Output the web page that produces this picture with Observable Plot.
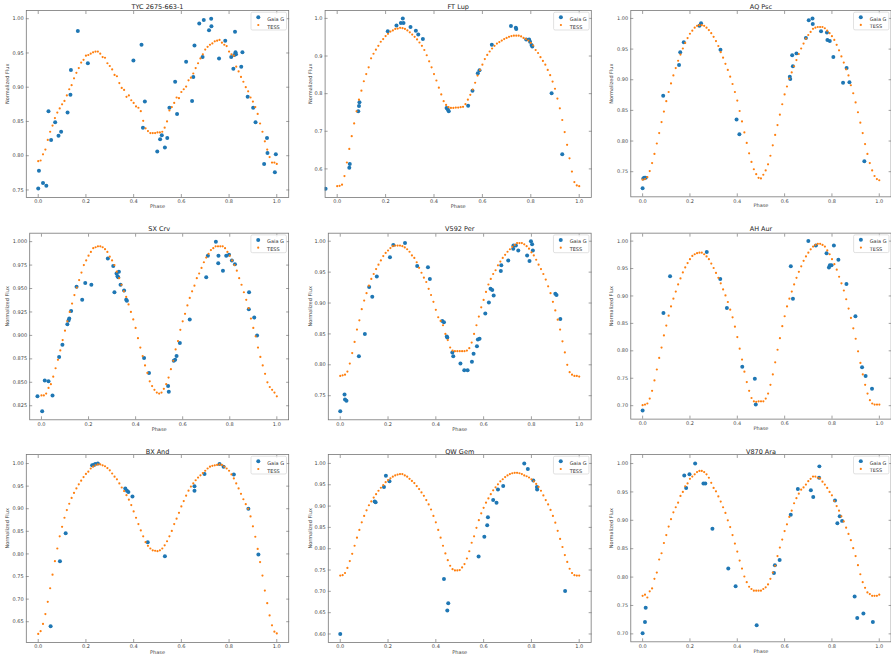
<!DOCTYPE html>
<html><head><meta charset="utf-8">
<script src="https://cdn.jsdelivr.net/npm/d3@7"></script>
<script src="https://cdn.jsdelivr.net/npm/@observablehq/plot@0.6"></script>
<style>
body{margin:0;background:#fff;overflow:hidden}
#wrap{position:relative;width:891px;height:660px;overflow:hidden;background:#fff}
.cell{position:absolute}
.cell svg{display:block}
</style></head><body><div id="wrap"></div>
<script>
const tessPhase = [0.00,0.01,0.02,0.03,0.04,0.05,0.06,0.07,0.08,0.09,0.10,0.11,0.12,0.13,0.14,0.15,0.16,0.17,0.18,0.19,0.20,0.21,0.22,0.23,0.24,0.25,0.26,0.27,0.28,0.29,0.30,0.31,0.32,0.33,0.34,0.35,0.36,0.37,0.38,0.39,0.40,0.41,0.42,0.43,0.44,0.45,0.46,0.47,0.48,0.49,0.50,0.51,0.52,0.53,0.54,0.55,0.56,0.57,0.58,0.59,0.60,0.61,0.62,0.63,0.64,0.65,0.66,0.67,0.68,0.69,0.70,0.71,0.72,0.73,0.74,0.75,0.76,0.77,0.78,0.79,0.80,0.81,0.82,0.83,0.84,0.85,0.86,0.87,0.88,0.89,0.90,0.91,0.92,0.93,0.94,0.95,0.96,0.97,0.98,0.99,1.00];
const xTicks = [0, 0.2, 0.4, 0.6, 0.8, 1.0];

// TYC 2675-663-1
const tycTess = [0.792,0.793,0.802,0.809,0.823,0.835,0.844,0.855,0.863,0.869,0.875,0.880,0.888,0.897,0.903,0.913,0.921,0.928,0.936,0.940,0.946,0.947,0.949,0.951,0.952,0.952,0.949,0.944,0.943,0.935,0.931,0.926,0.918,0.916,0.906,0.899,0.896,0.886,0.888,0.881,0.877,0.872,0.870,0.865,0.851,0.840,0.836,0.833,0.833,0.833,0.834,0.834,0.835,0.841,0.850,0.866,0.871,0.877,0.885,0.884,0.893,0.897,0.901,0.910,0.914,0.920,0.928,0.935,0.942,0.948,0.955,0.959,0.962,0.964,0.967,0.968,0.969,0.965,0.962,0.960,0.952,0.948,0.946,0.930,0.923,0.915,0.908,0.900,0.894,0.885,0.879,0.871,0.861,0.847,0.835,0.821,0.809,0.798,0.790,0.790,0.788];
const tycGaiaPhase = [0.000,0.003,0.020,0.034,0.043,0.054,0.071,0.085,0.096,0.123,0.135,0.137,0.166,0.208,0.399,0.433,0.439,0.447,0.499,0.511,0.518,0.531,0.541,0.550,0.574,0.582,0.620,0.645,0.650,0.655,0.675,0.689,0.694,0.716,0.725,0.726,0.758,0.784,0.809,0.818,0.822,0.825,0.827,0.829,0.851,0.856,0.878,0.901,0.911,0.947,0.959,0.961,0.992,0.996];
const tycGaiaFlux = [0.752,0.778,0.760,0.756,0.865,0.823,0.849,0.829,0.835,0.863,0.889,0.925,0.982,0.935,0.939,0.962,0.841,0.879,0.806,0.824,0.830,0.812,0.826,0.870,0.908,0.861,0.937,0.880,0.915,0.961,0.993,0.944,0.998,0.983,1.000,0.989,0.942,0.968,0.944,0.927,0.947,0.981,0.951,0.948,0.930,0.951,0.886,0.870,0.849,0.788,0.826,0.804,0.776,0.802];
const tycYTicks = [0.75,0.80,0.85,0.90,0.95,1.00];

// FT Lup
const ftlTess = [0.554,0.555,0.558,0.581,0.617,0.653,0.687,0.721,0.753,0.784,0.808,0.833,0.852,0.870,0.894,0.906,0.917,0.927,0.938,0.945,0.953,0.959,0.965,0.968,0.972,0.973,0.975,0.974,0.972,0.968,0.963,0.957,0.951,0.944,0.936,0.927,0.916,0.902,0.886,0.870,0.852,0.835,0.816,0.798,0.780,0.770,0.764,0.762,0.762,0.763,0.763,0.764,0.765,0.772,0.784,0.797,0.811,0.829,0.848,0.863,0.877,0.892,0.903,0.912,0.920,0.927,0.933,0.937,0.941,0.945,0.948,0.951,0.953,0.954,0.954,0.954,0.952,0.948,0.945,0.941,0.935,0.928,0.916,0.908,0.897,0.887,0.877,0.863,0.849,0.832,0.813,0.787,0.761,0.730,0.698,0.664,0.628,0.593,0.565,0.556,0.554];
const ftlGaiaPhase = [-0.048,0.050,0.052,0.087,0.090,0.092,0.209,0.245,0.263,0.271,0.274,0.303,0.325,0.335,0.354,0.452,0.457,0.461,0.541,0.559,0.581,0.588,0.639,0.718,0.738,0.740,0.781,0.793,0.797,0.803,0.806,0.886,0.930];
const ftlGaiaFlux = [0.547,0.603,0.613,0.753,0.767,0.777,0.966,0.981,0.988,1.000,0.988,0.977,0.967,0.957,0.945,0.762,0.758,0.753,0.768,0.808,0.854,0.862,0.930,0.980,0.975,0.972,0.944,0.944,0.938,0.929,0.925,0.801,0.639];
const ftlYTicks = [0.6,0.7,0.8,0.9,1.0];

// AQ Psc
const aqpTess = [0.737,0.738,0.741,0.751,0.764,0.779,0.796,0.813,0.831,0.848,0.865,0.880,0.894,0.907,0.919,0.931,0.941,0.951,0.960,0.968,0.975,0.980,0.985,0.988,0.989,0.989,0.988,0.985,0.981,0.976,0.970,0.963,0.955,0.945,0.936,0.926,0.916,0.905,0.893,0.880,0.866,0.849,0.832,0.814,0.797,0.780,0.766,0.754,0.746,0.740,0.739,0.745,0.752,0.762,0.776,0.793,0.810,0.826,0.843,0.860,0.876,0.889,0.902,0.912,0.922,0.932,0.942,0.951,0.959,0.967,0.973,0.978,0.983,0.985,0.986,0.986,0.986,0.984,0.980,0.976,0.971,0.965,0.957,0.948,0.938,0.928,0.917,0.907,0.891,0.878,0.863,0.847,0.830,0.813,0.795,0.779,0.764,0.752,0.743,0.738,0.736];
const aqpGaiaPhase = [0.000,0.003,0.007,0.013,0.087,0.154,0.159,0.174,0.240,0.247,0.329,0.397,0.409,0.622,0.624,0.632,0.635,0.650,0.690,0.702,0.718,0.719,0.754,0.779,0.781,0.791,0.806,0.847,0.862,0.874,0.937];
const aqpGaiaFlux = [0.723,0.739,0.740,0.740,0.874,0.924,0.945,0.961,0.988,0.992,0.949,0.835,0.811,0.905,0.901,0.940,0.922,0.943,0.968,0.997,1.000,0.991,0.979,0.977,0.965,0.963,0.937,0.895,0.919,0.896,0.767];
const aqpYTicks = [0.75,0.80,0.85,0.90,0.95,1.00];

// SX Crv
const sxcTess = [0.836,0.836,0.838,0.844,0.848,0.856,0.865,0.874,0.884,0.895,0.905,0.915,0.925,0.934,0.943,0.951,0.959,0.967,0.975,0.980,0.985,0.989,0.993,0.994,0.995,0.995,0.994,0.992,0.989,0.984,0.980,0.975,0.968,0.961,0.954,0.947,0.941,0.933,0.925,0.917,0.908,0.897,0.887,0.878,0.868,0.860,0.851,0.846,0.842,0.839,0.838,0.839,0.843,0.848,0.855,0.864,0.873,0.885,0.894,0.906,0.915,0.923,0.932,0.940,0.947,0.953,0.961,0.966,0.972,0.978,0.983,0.987,0.991,0.993,0.995,0.995,0.995,0.995,0.993,0.989,0.985,0.980,0.975,0.969,0.961,0.954,0.946,0.938,0.929,0.918,0.908,0.899,0.887,0.877,0.868,0.859,0.850,0.845,0.842,0.839,0.835];
const sxcGaiaPhase = [-0.017,0.003,0.014,0.030,0.047,0.075,0.089,0.110,0.115,0.118,0.126,0.149,0.173,0.186,0.212,0.282,0.305,0.310,0.319,0.323,0.326,0.329,0.336,0.351,0.360,0.363,0.436,0.457,0.538,0.541,0.562,0.568,0.574,0.588,0.630,0.700,0.707,0.741,0.751,0.752,0.771,0.785,0.797,0.809,0.822,0.881,0.882,0.904,0.916];
const sxcGaiaFlux = [0.835,0.819,0.852,0.851,0.836,0.877,0.890,0.912,0.916,0.918,0.926,0.952,0.938,0.956,0.954,0.982,0.974,0.946,0.966,0.963,0.962,0.968,0.954,0.948,0.938,0.937,0.876,0.860,0.846,0.840,0.873,0.874,0.878,0.892,0.917,0.962,0.985,1.000,0.977,0.985,0.969,0.985,0.986,0.980,0.976,0.928,0.946,0.919,0.900];
const sxcYTicks = [0.825,0.850,0.875,0.900,0.925,0.950,0.975,1.000];

// V592 Per
const v592Tess = [0.782,0.783,0.784,0.789,0.802,0.819,0.837,0.857,0.872,0.890,0.904,0.916,0.928,0.939,0.947,0.955,0.962,0.969,0.976,0.981,0.985,0.989,0.992,0.993,0.993,0.993,0.992,0.990,0.987,0.983,0.977,0.973,0.966,0.957,0.949,0.941,0.934,0.923,0.913,0.902,0.889,0.877,0.871,0.864,0.850,0.840,0.828,0.823,0.822,0.822,0.822,0.822,0.822,0.823,0.827,0.836,0.850,0.864,0.878,0.893,0.905,0.918,0.930,0.939,0.947,0.953,0.961,0.967,0.973,0.978,0.983,0.987,0.991,0.994,0.997,0.997,0.997,0.995,0.992,0.988,0.982,0.977,0.970,0.962,0.955,0.947,0.938,0.927,0.916,0.902,0.888,0.873,0.857,0.838,0.820,0.800,0.788,0.784,0.782,0.782,0.781];
const v592GaiaPhase = [0.000,0.018,0.020,0.026,0.078,0.103,0.121,0.134,0.153,0.208,0.222,0.271,0.322,0.367,0.375,0.427,0.434,0.446,0.448,0.469,0.473,0.503,0.519,0.533,0.551,0.558,0.572,0.576,0.583,0.607,0.622,0.629,0.636,0.642,0.672,0.674,0.703,0.724,0.725,0.735,0.745,0.782,0.792,0.798,0.803,0.806,0.900,0.905,0.921];
const v592GaiaFlux = [0.725,0.752,0.744,0.742,0.814,0.850,0.926,0.910,0.943,0.974,0.994,0.997,0.960,0.958,0.939,0.871,0.869,0.846,0.844,0.820,0.814,0.802,0.791,0.791,0.805,0.818,0.830,0.841,0.842,0.883,0.901,0.923,0.921,0.912,0.952,0.961,0.969,0.988,0.993,0.993,0.985,0.977,0.968,1.000,0.995,0.985,0.915,0.913,0.874];
const v592YTicks = [0.75,0.80,0.85,0.90,0.95,1.00];

// AH Aur
const ahaTess = [0.701,0.702,0.704,0.713,0.727,0.746,0.766,0.787,0.806,0.828,0.846,0.864,0.881,0.895,0.908,0.921,0.932,0.943,0.952,0.960,0.967,0.973,0.976,0.978,0.979,0.979,0.976,0.972,0.967,0.959,0.951,0.942,0.933,0.923,0.912,0.901,0.889,0.875,0.861,0.844,0.825,0.804,0.784,0.762,0.743,0.727,0.714,0.708,0.707,0.708,0.708,0.708,0.713,0.722,0.738,0.757,0.779,0.802,0.823,0.845,0.863,0.881,0.895,0.908,0.921,0.933,0.944,0.954,0.964,0.972,0.979,0.985,0.990,0.993,0.995,0.995,0.993,0.990,0.983,0.976,0.967,0.958,0.948,0.935,0.923,0.910,0.894,0.877,0.860,0.841,0.822,0.799,0.778,0.757,0.738,0.722,0.710,0.704,0.702,0.702,0.702];
const ahaGaiaPhase = [0.000,0.088,0.116,0.271,0.328,0.356,0.421,0.474,0.478,0.626,0.635,0.700,0.732,0.777,0.787,0.791,0.798,0.808,0.827,0.861,0.899,0.927,0.942,0.969];
const ahaGaiaFlux = [0.691,0.869,0.936,0.980,0.931,0.878,0.771,0.749,0.702,0.954,0.895,1.000,0.992,0.978,0.952,0.956,0.956,0.992,0.966,0.922,0.863,0.770,0.754,0.731];
const ahaYTicks = [0.70,0.75,0.80,0.85,0.90,0.95,1.00];

// BX And
const bxaTess = [0.623,0.629,0.645,0.667,0.694,0.724,0.754,0.784,0.812,0.839,0.860,0.880,0.897,0.911,0.924,0.935,0.945,0.954,0.962,0.970,0.977,0.982,0.989,0.993,0.996,0.998,0.998,0.996,0.994,0.990,0.985,0.978,0.971,0.965,0.956,0.947,0.939,0.930,0.920,0.908,0.894,0.880,0.866,0.852,0.839,0.826,0.818,0.812,0.808,0.807,0.806,0.808,0.812,0.819,0.828,0.839,0.851,0.866,0.878,0.891,0.905,0.917,0.929,0.940,0.949,0.956,0.963,0.969,0.974,0.979,0.984,0.989,0.993,0.995,0.996,0.997,0.998,0.997,0.993,0.989,0.984,0.976,0.967,0.956,0.945,0.933,0.921,0.910,0.900,0.883,0.861,0.838,0.811,0.782,0.752,0.719,0.691,0.664,0.642,0.628,0.624];
const bxaGaiaPhase = [0.052,0.091,0.115,0.226,0.233,0.239,0.250,0.365,0.372,0.378,0.395,0.459,0.531,0.655,0.655,0.697,0.760,0.777,0.820,0.881,0.923];
const bxaGaiaFlux = [0.640,0.784,0.846,0.996,0.997,0.999,1.000,0.945,0.940,0.937,0.927,0.826,0.795,0.950,0.940,0.977,0.999,0.993,0.976,0.900,0.799];
const bxaYTicks = [0.65,0.70,0.75,0.80,0.85,0.90,0.95,1.00];

// QW Gem
const qwgTess = [0.737,0.738,0.743,0.755,0.771,0.788,0.807,0.826,0.844,0.862,0.877,0.890,0.902,0.911,0.920,0.928,0.936,0.943,0.949,0.956,0.961,0.965,0.969,0.972,0.974,0.975,0.975,0.972,0.969,0.964,0.959,0.954,0.947,0.940,0.932,0.924,0.914,0.904,0.892,0.877,0.862,0.844,0.826,0.807,0.789,0.773,0.760,0.752,0.749,0.749,0.750,0.756,0.764,0.777,0.794,0.814,0.829,0.849,0.867,0.883,0.896,0.908,0.918,0.928,0.937,0.944,0.951,0.958,0.963,0.968,0.972,0.975,0.977,0.978,0.978,0.977,0.975,0.972,0.970,0.967,0.963,0.958,0.952,0.945,0.936,0.925,0.914,0.904,0.891,0.877,0.861,0.842,0.823,0.804,0.785,0.769,0.753,0.743,0.738,0.737,0.737];
const qwgGaiaPhase = [0.000,0.144,0.148,0.183,0.191,0.206,0.434,0.448,0.452,0.579,0.603,0.615,0.618,0.640,0.654,0.660,0.682,0.770,0.785,0.808,0.823,0.824,0.941];
const qwgGaiaFlux = [0.600,0.911,0.909,0.945,0.971,0.958,0.729,0.655,0.672,0.782,0.828,0.855,0.874,0.914,0.908,0.939,0.947,1.000,0.987,0.960,0.945,0.939,0.701];
const qwgYTicks = [0.60,0.65,0.70,0.75,0.80,0.85,0.90,0.95,1.00];

// V870 Ara
const v870Tess = [0.767,0.769,0.764,0.775,0.780,0.797,0.808,0.831,0.842,0.860,0.874,0.889,0.902,0.914,0.923,0.931,0.943,0.950,0.960,0.965,0.973,0.977,0.981,0.985,0.987,0.987,0.985,0.981,0.975,0.966,0.957,0.951,0.942,0.933,0.923,0.913,0.900,0.888,0.874,0.859,0.845,0.829,0.815,0.801,0.791,0.783,0.779,0.776,0.776,0.776,0.776,0.779,0.782,0.787,0.797,0.808,0.820,0.837,0.852,0.866,0.881,0.893,0.906,0.917,0.930,0.939,0.947,0.954,0.958,0.963,0.969,0.973,0.977,0.977,0.975,0.974,0.968,0.963,0.957,0.950,0.944,0.934,0.925,0.917,0.907,0.898,0.887,0.876,0.865,0.851,0.837,0.821,0.805,0.791,0.781,0.773,0.770,0.767,0.767,0.767,0.769];
const v870GaiaPhase = [0.000,0.010,0.013,0.176,0.184,0.198,0.222,0.257,0.265,0.295,0.362,0.393,0.482,0.555,0.559,0.579,0.626,0.656,0.711,0.721,0.746,0.747,0.813,0.823,0.833,0.843,0.896,0.907,0.933,0.973];
const v870GaiaFlux = [0.701,0.721,0.746,0.979,0.957,0.981,1.000,0.965,0.965,0.885,0.815,0.784,0.715,0.807,0.821,0.830,0.910,0.955,0.953,0.941,0.975,0.995,0.935,0.895,0.907,0.899,0.766,0.728,0.736,0.721];
const v870YTicks = [0.70,0.75,0.80,0.85,0.90,0.95,1.00];

const panels = [
  {title:"TYC 2675-663-1", gp:tycGaiaPhase, gf:tycGaiaFlux, tf:tycTess, yd:[0.739,1.012], yt:tycYTicks, dec:2, left:0, top:0, w:297, mL:25.8, mR:8.8, mT:10, mB:23, ylab:-18.5, xlab:10, tdy:-6},
  {title:"FT Lup", gp:ftlGaiaPhase, gf:ftlGaiaFlux, tf:ftlTess, yd:[0.524,1.021], yt:ftlYTicks, dec:1, left:297, top:0, w:297, mL:27.6, mR:3.2, mT:10, mB:23, ylab:-15, xlab:10, tdy:-6},
  {title:"AQ Psc", gp:aqpGaiaPhase, gf:aqpGaiaFlux, tf:aqpTess, yd:[0.709,1.013], yt:aqpYTicks, dec:2, left:594, top:0, w:298, mL:36.4, mR:0.4, mT:10, mB:23, ylab:-19, xlab:10, tdy:-6},
  {title:"SX Crv", gp:sxcGaiaPhase, gf:sxcGaiaFlux, tf:sxcTess, yd:[0.810,1.009], yt:sxcYTicks, dec:3, left:0, top:220, w:297, mL:29.2, mR:8.9, mT:12.7, mB:20.7, ylab:-22, xlab:11, tdy:-6.5},
  {title:"V592 Per", gp:v592GaiaPhase, gf:v592GaiaFlux, tf:v592Tess, yd:[0.711,1.013], yt:v592YTicks, dec:2, left:297, top:220, w:297, mL:30.8, mR:3.35, mT:12.7, mB:20.7, ylab:-18.1, xlab:11, tdy:-6.5},
  {title:"AH Aur", gp:ahaGaiaPhase, gf:ahaGaiaFlux, tf:ahaTess, yd:[0.6755,1.0145], yt:ahaYTicks, dec:2, left:594, top:220, w:298, mL:36.4, mR:0.3, mT:12.7, mB:20.7, ylab:-19, xlab:11, tdy:-6.5},
  {title:"BX And", gp:bxaGaiaPhase, gf:bxaGaiaFlux, tf:bxaTess, yd:[0.604,1.020], yt:bxaYTicks, dec:2, left:0, top:440, w:297, mL:25.8, mR:8.8, mT:14, mB:18, ylab:-18.5, xlab:11, tdy:-5.5},
  {title:"QW Gem", gp:qwgGaiaPhase, gf:qwgGaiaFlux, tf:qwgTess, yd:[0.580,1.021], yt:qwgYTicks, dec:2, left:297, top:440, w:297, mL:30.8, mR:3.35, mT:14, mB:18, ylab:-18.1, xlab:11, tdy:-5.5},
  {title:"V870 Ara", gp:v870GaiaPhase, gf:v870GaiaFlux, tf:v870Tess, yd:[0.686,1.016], yt:v870YTicks, dec:2, left:594, top:440, w:298, mL:36.4, mR:0.4, mT:14, mB:18, ylab:-19, xlab:11, tdy:-5.5}
];

const wrap = document.getElementById("wrap");
const H = 220;
const axisCol = "#777";
for (const p of panels) {
  const fw = p.w - p.mL - p.mR, fh = H - p.mT - p.mB;
  const gaia = p.gp.map((x, i) => ({phase: x, flux: p.gf[i]}));
  const tess = tessPhase.map((x, i) => ({phase: x, flux: p.tf[i]}));
  const svg = Plot.plot({
    width: p.w, height: H,
    marginLeft: p.mL, marginRight: p.mR, marginTop: p.mT, marginBottom: p.mB,
    x: {domain: [-0.05, 1.05], label: null},
    y: {domain: p.yd, label: null},
    style: {fontFamily: "'DejaVu Sans', sans-serif", fontSize: "5px", color: "#333", background: "transparent", overflow: "visible"},
    marks: [
      Plot.dot(gaia, {x: "phase", y: "flux", r: 2, fill: "#1f77b4", clip: true}),
      Plot.dot(tess, {x: "phase", y: "flux", r: 1.1, fill: "#ff7f0e", clip: true}),
      Plot.frame({stroke: axisCol, strokeWidth: 0.8}),
      Plot.axisY(p.yt, {anchor: "left", tickSize: -3, fill: "none", stroke: axisCol, strokeWidth: 0.7}),
      Plot.axisY(p.yt, {anchor: "right", tickSize: -3, fill: "none", stroke: axisCol, strokeWidth: 0.7}),
      Plot.axisX(xTicks, {anchor: "bottom", tickSize: -3, fill: "none", stroke: axisCol, strokeWidth: 0.7}),
      Plot.axisX(xTicks, {anchor: "top", tickSize: -3, fill: "none", stroke: axisCol, strokeWidth: 0.7}),
      Plot.axisY(p.yt, {anchor: "left", tickSize: 0, tickPadding: 2.6, tickFormat: d => d.toFixed(p.dec), label: null, fill: "#444"}),
      Plot.axisX(xTicks, {anchor: "bottom", tickSize: 0, tickPadding: 2.3, tickFormat: d => d.toFixed(1), label: null, fill: "#444"}),
      Plot.text([p.title], {frameAnchor: "top", dy: p.tdy, fontSize: 6.5, fill: "#222", text: d => d}),
      Plot.text(["Phase"], {frameAnchor: "bottom", dy: p.xlab, fill: "#444", text: d => d}),
      Plot.text(["Normalized Flux"], {frameAnchor: "left", dx: p.ylab, rotate: -90, fill: "#444", text: d => d}),
      Plot.frame({fill: "white", fillOpacity: 0.8, stroke: "#ccc", strokeWidth: 0.6, rx: 1.5,
        insetTop: 1.7, insetRight: 2.2, insetLeft: fw - 2.2 - 35.5, insetBottom: fh - 1.7 - 17.8}),
      Plot.dot([0], {frameAnchor: "top-right", dx: -30.4, dy: 6.7, r: 2, fill: "#1f77b4"}),
      Plot.dot([0], {frameAnchor: "top-right", dx: -30.4, dy: 14.5, r: 1.1, fill: "#ff7f0e"}),
      Plot.text(["Gaia G"], {frameAnchor: "top-right", dx: -21.5, dy: 6.7, textAnchor: "start", fill: "#333", text: d => d}),
      Plot.text(["TESS"], {frameAnchor: "top-right", dx: -21.5, dy: 14.5, textAnchor: "start", fill: "#333", text: d => d})
    ]
  });
  const cell = document.createElement("div");
  cell.className = "cell";
  cell.style.left = p.left + "px";
  cell.style.top = p.top + "px";
  cell.appendChild(svg);
  wrap.appendChild(cell);
}
</script>
</body></html>
